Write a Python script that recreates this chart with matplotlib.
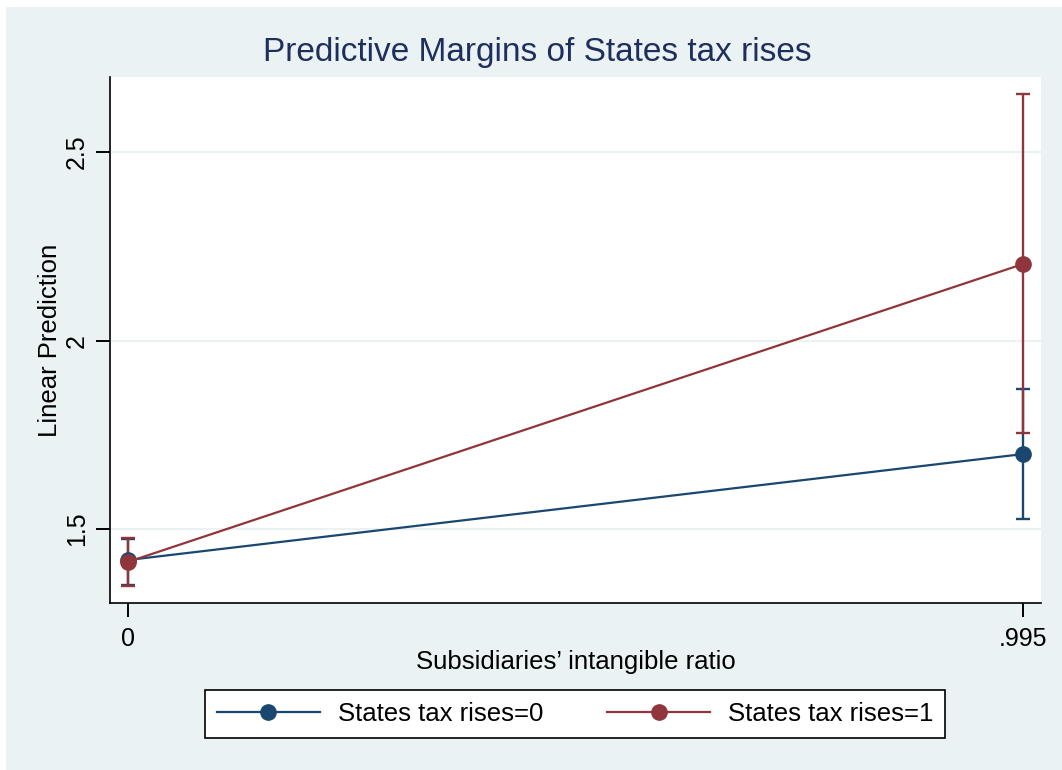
import matplotlib.pyplot as plt
from matplotlib.patches import Rectangle

# Margins at intangible ratio = 0 and .995
x_vals = [0, 0.995]
x_ticklabels = ["0", ".995"]
y_ticks = [1.5, 2, 2.5]
y_ticklabels = ["1.5", "2", "2.5"]

margin_0 = [1.418, 1.699]
lo_0 = [1.351, 1.527]
hi_0 = [1.475, 1.871]

margin_1 = [1.413, 2.203]
lo_1 = [1.349, 1.755]
hi_1 = [1.476, 2.654]

labels = ["States tax rises=0", "States tax rises=1"]

navy = "#1a476f"
maroon = "#90353b"
bg = "#eaf2f3"

plt.rcParams['font.family'] = ['Liberation Sans', 'DejaVu Sans']

W, H = 1062, 770
fig = plt.figure(figsize=(W / 100, H / 100), dpi=100, facecolor="white")
fig.patches.append(Rectangle((6 / W, 0), 1, 1 - 7 / H, transform=fig.transFigure,
                             facecolor=bg, edgecolor="none", zorder=-10))

ax = fig.add_axes([110 / W, 1 - 603 / H, (1041 - 110) / W, (603 - 77) / H])
ax.set_facecolor("white")
ax.set_xlim(-0.020, 1.015)
ax.set_ylim(1.304, 2.699)

for y in y_ticks:
    ax.axhline(y, color=bg, lw=1.5, zorder=0)

for mid, lo, hi, col in [(margin_0, lo_0, hi_0, navy), (margin_1, lo_1, hi_1, maroon)]:
    err = [[m - l for m, l in zip(mid, lo)], [h - m for m, h in zip(mid, hi)]]
    ax.errorbar(x_vals, mid, yerr=err, fmt="none", ecolor=col, elinewidth=1.7,
                capsize=4.8, capthick=1.7, zorder=2)

ax.plot(x_vals, margin_0, color=navy, lw=1.6, marker="o", ms=11, zorder=3, label=labels[0])
ax.plot(x_vals, margin_1, color=maroon, lw=1.6, marker="o", ms=11, zorder=4, label=labels[1])

ax.spines['top'].set_visible(False)
ax.spines['right'].set_visible(False)
ax.spines['left'].set_linewidth(1.2)
ax.spines['bottom'].set_linewidth(1.2)

ax.set_xticks(x_vals)
ax.set_xticklabels(x_ticklabels, fontsize=18)
ax.set_yticks(y_ticks)
ax.set_yticklabels(y_ticklabels, fontsize=18, rotation=90, va="center")
ax.tick_params(axis="x", length=10, width=1.4, pad=7)
ax.tick_params(axis="y", length=10, width=1.4, pad=5)

ax.set_xlabel("Subsidiaries\u2019 intangible ratio", fontsize=18.5, va="center")
ax.xaxis.set_label_coords(0.5, (603 - 662) / 526)
ax.set_ylabel("Linear Prediction", fontsize=18.5, va="center")
ax.yaxis.set_label_coords((50 - 110) / 931, 0.5)

fig.text(537 / W, 1 - 52 / H, "Predictive Margins of States tax rises",
         fontsize=24, color="#1e2f5e", ha="center", va="center")

leg = fig.legend(loc="center", bbox_to_anchor=(575 / W, 1 - 714 / H), ncol=2,
                 fontsize=18.5, frameon=True, fancybox=False, edgecolor="black",
                 framealpha=1, handlelength=4.0, handletextpad=0.7,
                 columnspacing=2.5, borderpad=0.45, markerscale=1.0)
leg.get_frame().set_linewidth(1.2)

fig.savefig("out.png", dpi=100, facecolor=fig.get_facecolor())
